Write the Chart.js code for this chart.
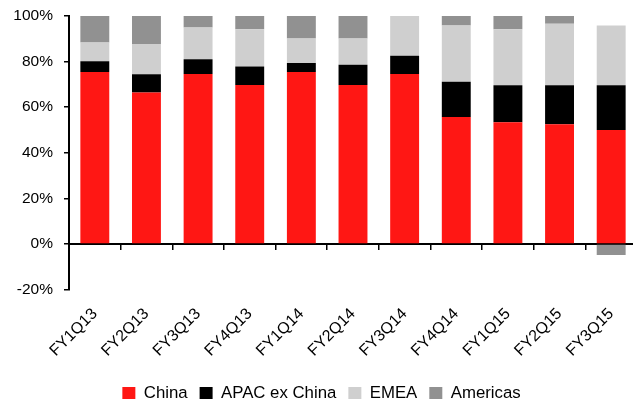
<!DOCTYPE html>
<html>
<head>
<meta charset="utf-8">
<script src="https://cdn.jsdelivr.net/npm/chart.js@4.4.1/dist/chart.umd.min.js"></script>
<style>
  html, body { margin: 0; padding: 0; background: #fff; overflow: hidden; }
  #wrap { width: 637px; height: 405px; position: relative; }
</style>
</head>
<body>
<div id="wrap"><canvas id="c"></canvas></div>
<script>
const categories = ['FY1Q13','FY2Q13','FY3Q13','FY4Q13','FY1Q14','FY2Q14','FY3Q14','FY4Q14','FY1Q15','FY2Q15','FY3Q15'];
const china    = [75.4, 66.4, 74.6, 69.7, 75.4, 69.7, 74.6, 55.7, 53.4, 52.5, 50.0];
const apac     = [4.7, 8.0, 6.4, 8.1, 4.0, 8.9, 8.0, 15.5, 16.2, 17.1, 19.6];
const emea     = [8.3, 13.3, 14.0, 16.4, 10.7, 11.5, 17.4, 24.6, 24.6, 27.0, 26.2];
const americas = [11.6, 12.3, 5.0, 5.8, 9.9, 9.9, 0, 4.2, 5.8, 3.4, -4.8];
const yTicks   = [-20, 0, 20, 40, 60, 80, 100];

const FONT = "'Liberation Sans', Arial, sans-serif";

const legendShift = {
  id: 'legendShift',
  afterLayout(chart) {
    const l = chart.legend;
    if (!l) return;
    l.left += 3; l.right += 3;
    l.top += 6.5; l.bottom += 6.5;
  }
};

new Chart(document.getElementById('c'), {
  type: 'bar',
  data: {
    labels: categories,
    datasets: [
      { label: 'China', data: china, backgroundColor: '#FF1714', borderWidth: 0 },
      { label: 'APAC ex China', data: apac, backgroundColor: '#000000', borderWidth: 0 },
      { label: 'EMEA', data: emea, backgroundColor: '#CFCFCF', borderWidth: 0 },
      { label: 'Americas', data: americas, backgroundColor: '#919191', borderWidth: 0 }
    ]
  },
  options: {
    responsive: true,
    maintainAspectRatio: false,
    animation: false,
    devicePixelRatio: 1,
    datasets: { bar: { barPercentage: 0.56, categoryPercentage: 1.0 } },
    layout: { padding: { top: 16, right: 0, bottom: 0, left: 0 } },
    plugins: {
      tooltip: { enabled: false },
      legend: {
        position: 'bottom',
        labels: {
          boxWidth: 13, boxHeight: 12, padding: 12,
          color: '#000',
          font: { family: FONT, size: 16.8 }
        }
      }
    },
    scales: {
      x: {
        type: 'category',
        stacked: true,
        offset: true,
        border: { display: false },
        grid: { display: false, drawTicks: false },
        ticks: {
          color: '#000',
          font: { family: FONT, size: 16 },
          minRotation: 45, maxRotation: 45,
          padding: 15,
          labelOffset: 0,
          autoSkip: false
        },
        afterFit(scale) { scale.height = 76.6; scale.paddingRight = 0; scale.paddingLeft = 0; }
      },
      x2: {
        type: 'category',
        labels: categories,
        position: { y: 0 },
        offset: true,
        z: 1,
        border: { display: true, color: '#000', width: 2 },
        grid: { display: true, offset: true, drawOnChartArea: false, drawTicks: true, tickLength: 5, color: '#000', lineWidth: 1.5 },
        ticks: { display: false }
      },
      y: {
        stacked: true,
        min: -20, max: 100,
        afterBuildTicks(scale) { scale.ticks = yTicks.map(v => ({ value: v })); },
        border: { display: true, color: '#000', width: 2 },
        grid: { drawOnChartArea: false, drawTicks: true, tickLength: 5, color: '#000', lineWidth: 1.5 },
        ticks: {
          color: '#000',
          font: { family: FONT, size: 15.5 },
          padding: 11,
          callback: v => v + '%'
        },
        afterFit(scale) { scale.width = 69; scale.paddingTop = 0; scale.paddingBottom = 0; }
      }
    }
  },
  plugins: [legendShift]
});
</script>
</body>
</html>
